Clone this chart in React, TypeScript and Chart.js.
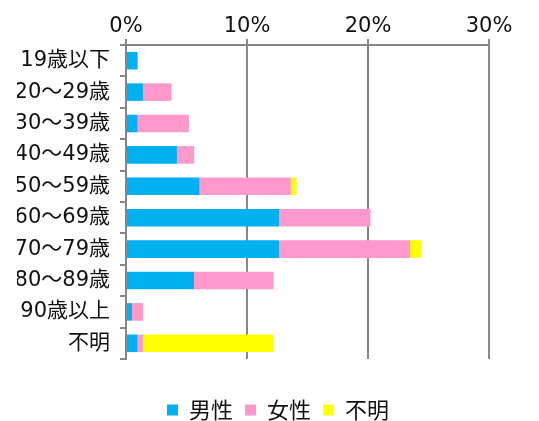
import React, { useEffect, useRef } from "react";
import { Chart, registerables } from "chart.js";

Chart.register(...registerables);

const categories = ["19歳以下", "20～29歳", "30～39歳", "40～49歳", "50～59歳", "60～69歳", "70～79歳", "80～89歳", "90歳以上", "不明"];
const maleValues = [0.96, 1.4, 0.96, 4.21, 6.08, 12.66, 12.66, 5.62, 0.5, 0.96];
const femaleValues = [0, 2.37, 4.24, 1.43, 7.54, 7.55, 10.82, 6.58, 0.93, 0.44];
const unknownValues = [0, 0, 0, 0, 0.47, 0, 0.96, 0, 0, 10.79];
const xTicks = [0, 10, 20, 30];

const FONT = "'DejaVu Sans', 'Noto Sans CJK JP', sans-serif";
const CJK = "'Noto Sans CJK JP', sans-serif";

export default function App() {
  const ref = useRef<HTMLCanvasElement>(null);
  useEffect(() => {
    document.body.style.margin = "0";
    const ctx = ref.current!;
    const chart = new Chart(ctx, {
      type: "bar",
      data: {
        labels: categories,
        datasets: [
          { label: "男性", data: maleValues, backgroundColor: "#00B0F0", barPercentage: 0.56, categoryPercentage: 1, xAxisID: "x" },
          { label: "女性", data: femaleValues, backgroundColor: "#FF99CC", barPercentage: 0.56, categoryPercentage: 1, xAxisID: "x" },
          { label: "不明", data: unknownValues, backgroundColor: "#FFFF00", barPercentage: 0.56, categoryPercentage: 1, xAxisID: "x" },
        ],
      },
      options: {
        indexAxis: "y",
        responsive: false,
        animation: false,
        layout: { padding: { left: 17, right: 0, top: 0, bottom: -10 } },
        scales: {
          x: {
            position: "top",
            stacked: true,
            min: 0,
            max: 30,
            afterBuildTicks: (axis: any) => {
              axis.ticks = xTicks.map((v) => ({ value: v }));
            },
            afterFit: (axis: any) => {
              axis.height = 45;
            },
            ticks: {
              callback: (v: any) => v + "%",
              color: "#111",
              font: { family: FONT, size: 21 },
              padding: 0,
            },
            grid: { color: "#868686", lineWidth: 2, tickLength: 6 },
            border: { display: true, color: "#868686", width: 2 },
          },
          x2: {
            position: "bottom",
            axis: "x",
            display: true,
            min: 0,
            max: 30,
            afterFit: (axis: any) => {
              axis.height = 28;
            },
            ticks: { display: false },
            grid: { display: false },
            border: { display: false },
          },
          y: {
            stacked: true,
            afterFit: (axis: any) => {
              axis.width = 109;
            },
            ticks: {
              color: "#111",
              font: { family: FONT, size: 21 },
              padding: 10,
            },
            grid: { color: "#868686", lineWidth: 2, drawOnChartArea: false, tickLength: 6, offset: true },
            border: { color: "#868686", width: 2 },
          },
          y2: {
            position: "right",
            axis: "y",
            type: "category",
            display: true,
            afterFit: (axis: any) => {
              axis.width = 50;
            },
            ticks: { display: false },
            grid: { display: false },
            border: { display: false },
          },
        },
        plugins: {
          legend: {
            position: "bottom",
            labels: {
              boxWidth: 11,
              boxHeight: 11,
              color: "#111",
              font: { family: CJK, size: 22 },
              padding: 12,
            },
          },
          tooltip: { enabled: false },
        },
      },
    });
    return () => chart.destroy();
  }, []);
  return (
    <div style={{ position: "absolute", left: 0, top: 0, width: 539, height: 421, background: "#fff" }}>
      <canvas ref={ref} width={539} height={421} />
    </div>
  );
}
